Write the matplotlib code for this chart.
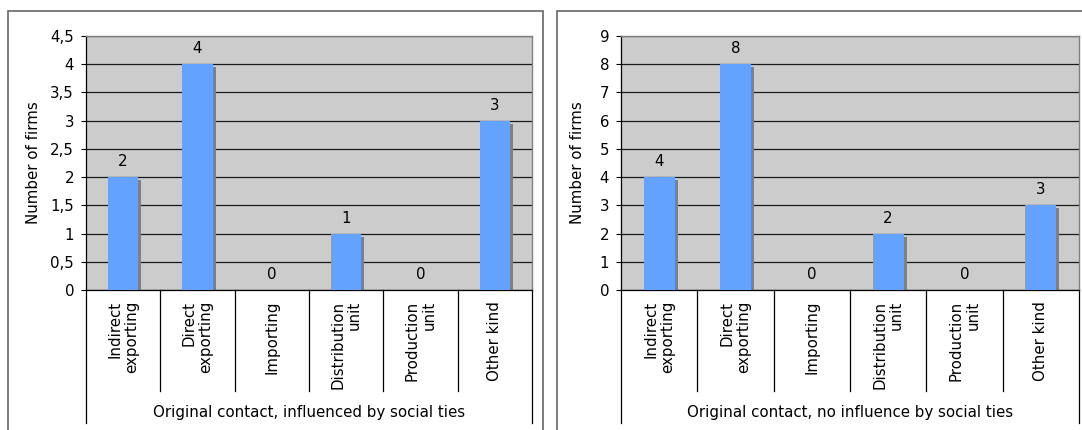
import matplotlib
matplotlib.use("Agg")
import matplotlib.pyplot as plt
from matplotlib.patches import Rectangle
from matplotlib.transforms import ScaledTranslation

plt.rcParams["font.family"] = ["DejaVu Sans"]

# --- data ---------------------------------------------------------------
categories = ["Indirect\nexporting", "Direct\nexporting", "Importing",
              "Distribution\nunit", "Production\nunit", "Other kind"]
influenced = [2, 4, 0, 1, 0, 3]
not_influenced = [4, 8, 0, 2, 0, 3]
ticks_left = [0, 0.5, 1, 1.5, 2, 2.5, 3, 3.5, 4, 4.5]
tick_labels_left = ["0", "0,5", "1", "1,5", "2", "2,5", "3", "3,5", "4", "4,5"]
ticks_right = [0, 1, 2, 3, 4, 5, 6, 7, 8, 9]
tick_labels_right = [str(t) for t in ticks_right]
group_left = "Original contact, influenced by social ties"
group_right = "Original contact, no influence by social ties"
y_title = "Number of firms"

# --- styling ------------------------------------------------------------
W, H = 1082, 430
DPI = 100
BAR = "#63A3FF"
SHADOW = "#808080"
PLOT_BG = "#CCCCCC"
FS = 10.8

fig = plt.figure(figsize=(W / DPI, H / DPI), dpi=DPI)
fig.patch.set_facecolor("white")


def px_axes(x0, x1, y_top, y_bot):
    return fig.add_axes([x0 / W, (H - y_bot) / H, (x1 - x0) / W, (y_bot - y_top) / H])


def draw_panel(frame, plot, values, ticks, tick_labels, group, ylab_x):
    fx0, fx1, fy0 = frame
    x0, x1, y_top, y_bot = plot
    # outer chart frame
    fig.add_artist(Rectangle((fx0 / W, -0.1), (fx1 - fx0) / W, (H - fy0) / H + 0.1,
                             transform=fig.transFigure, fill=False,
                             edgecolor="#666666", linewidth=1.2, clip_on=False))
    ax = px_axes(x0, x1, y_top, y_bot)
    ax.set_facecolor(PLOT_BG)
    n = len(values)
    xs = list(range(n))
    ax.set_xlim(-0.5, n - 0.5)
    ax.set_ylim(ticks[0], ticks[-1])
    ax.set_axisbelow(True)
    ax.yaxis.grid(True, color="#1a1a1a", linewidth=0.9)
    ax.xaxis.grid(False)

    # drop shadow behind each bar, then the bars themselves
    shift = ax.transData + ScaledTranslation(3 / DPI, -3 / DPI, fig.dpi_scale_trans)
    width = 0.41
    for x, v in zip(xs, values):
        if v > 0:
            ax.add_patch(Rectangle((x - width / 2, 0), width, v, transform=shift,
                                   facecolor=SHADOW, edgecolor="none", zorder=2))
    ax.bar(xs, values, width=width, color=BAR, edgecolor="none", zorder=3)

    # value labels
    for x, v in zip(xs, values):
        ax.annotate(f"{v:g}", (x, v), xytext=(0, 11), textcoords="offset pixels",
                    ha="center", va="baseline", fontsize=FS, color="black",
                    annotation_clip=False)

    # axes styling
    ax.set_yticks(ticks)
    ax.set_yticklabels(tick_labels, fontsize=FS)
    ax.set_xticks([])
    ax.tick_params(axis="y", direction="out", length=3.6, width=0.8,
                   color="black", pad=5.0)
    for side in ("left", "bottom"):
        ax.spines[side].set_color("black")
        ax.spines[side].set_linewidth(0.9)
    for side in ("top", "right"):
        ax.spines[side].set_color("#808080")
        ax.spines[side].set_linewidth(1.0)

    ph = y_bot - y_top
    xtr = ax.get_xaxis_transform()
    # category dividers under the axis
    for b in range(1, n):
        ax.plot([b - 0.5, b - 0.5], [0, -(391 - y_bot) / ph], transform=xtr,
                color="black", linewidth=0.9, clip_on=False)
    for b in (-0.5, n - 0.5):
        ax.plot([b, b], [0, -(423 - y_bot) / ph], transform=xtr,
                color="black", linewidth=0.9, clip_on=False)

    # category labels
    for x, lab in zip(xs, categories):
        ax.annotate(lab, (x, 0), xycoords=xtr, xytext=(0, -11),
                    textcoords="offset pixels", rotation=90, ha="center",
                    va="top", multialignment="right", fontsize=FS,
                    linespacing=1.15, annotation_clip=False)

    # group label and axis title
    ax.text(0.5, -(412 - y_bot) / ph, group, transform=ax.transAxes,
            ha="center", va="center", fontsize=FS)
    ax.text((ylab_x - x0) / (x1 - x0), 0.5, y_title, transform=ax.transAxes,
            rotation=90, ha="center", va="center", fontsize=FS)
    return ax


draw_panel((8, 543, 11), (86, 532, 36, 290), influenced,
           ticks_left, tick_labels_left, group_left, 33)
draw_panel((557, 1095, 11), (621, 1079, 36, 290), not_influenced,
           ticks_right, tick_labels_right, group_right, 578)

fig.savefig("out.png", dpi=DPI)
